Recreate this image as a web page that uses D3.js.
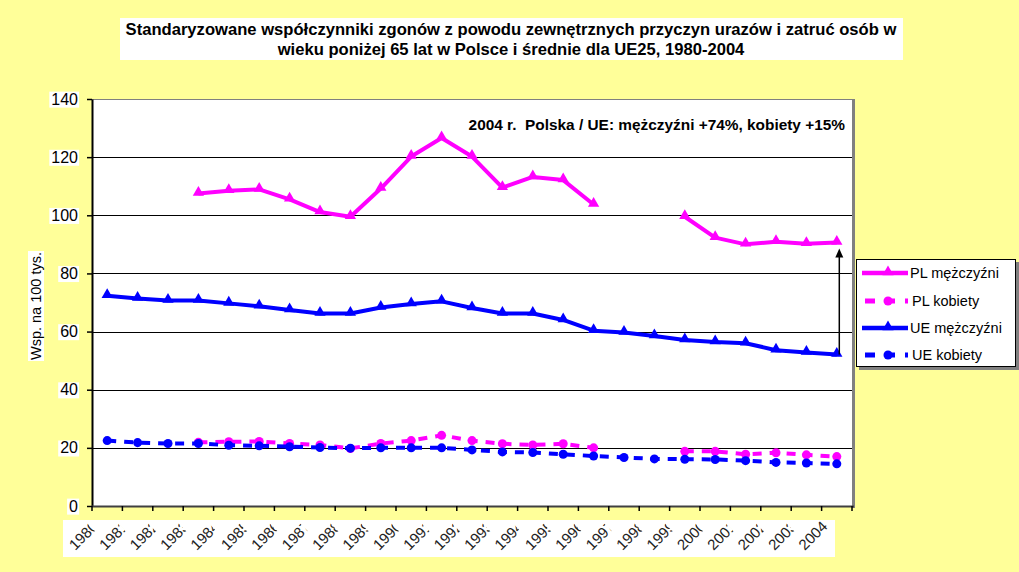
<!DOCTYPE html>
<html><head><meta charset="utf-8">
<script src="https://cdn.jsdelivr.net/npm/d3@7/dist/d3.min.js"></script>
<style>body{margin:0;background:#FFFF99;} svg{display:block;font-family:"Liberation Sans",Arial,sans-serif;}</style>
</head><body>
<svg id="c" width="1019" height="572"></svg>
<script>
const years = ["1980","1981","1982","1983","1984","1985","1986","1987","1988","1989","1990","1991","1992","1993","1994","1995","1996","1997","1998","1999","2000","2001","2002","2003","2004"];
const plMen   = [null,null,null,107.5,108.4,108.9,105.5,101.1,99.5,109.2,120.2,126.6,120.2,109.5,113.2,112.1,103.7,null,null,99.5,92.3,90.0,90.9,90.2,90.6];
const plWomen = [null,null,null,21.9,22.1,22.2,21.5,21.0,19.8,21.5,22.5,24.3,22.5,21.4,21.0,21.4,20.0,null,null,18.8,18.8,17.8,18.3,17.6,17.0];
const ueMen   = [72.3,71.4,70.7,70.7,69.7,68.7,67.4,66.2,66.2,68.3,69.5,70.4,68.1,66.2,66.2,64.0,60.3,59.7,58.5,57.1,56.4,56.0,53.6,52.8,52.1];
const ueWomen = [22.5,21.8,21.5,21.5,20.9,20.7,20.4,20.1,19.9,20.0,20.0,20.0,19.3,18.6,18.4,17.8,17.2,16.7,16.2,16.1,16.0,15.6,15.0,14.8,14.5];
const yTicks = [0,20,40,60,80,100,120,140];
const titleLines = ["Standaryzowane współczynniki zgonów z powodu zewnętrznych przyczyn urazów i zatruć osób w","wieku poniżej 65 lat w Polsce i średnie dla UE25, 1980-2004"];
const yLabel = "Wsp. na 100 tys.";
const note = "2004 r.  Polska / UE: mężczyźni +74%, kobiety +15%";
const series = [
  {name:"PL mężczyźni", values:plMen, color:"#FF00FF", dash:null, marker:"tri"},
  {name:"PL kobiety", values:plWomen, color:"#FF00FF", dash:"9,8", marker:"circ"},
  {name:"UE mężczyźni", values:ueMen, color:"#0000FF", dash:null, marker:"tri"},
  {name:"UE kobiety", values:ueWomen, color:"#0000FF", dash:"9,8", marker:"circ"}
];

const svg = d3.select("#c");
const L=92, R=852, T=99, B=506;
const x = d3.scaleBand().domain(years).range([L,R]).padding(0);
const y = d3.scaleLinear().domain([0,140]).range([B,T]);
const cx = yr => x(yr)+x.bandwidth()/2;

// title
const tg = svg.append("g");
tg.append("rect").attr("x",120).attr("y",18).attr("width",783).attr("height",42).attr("fill","#fff");
titleLines.forEach((t,i)=>tg.append("text").attr("x",511).attr("y",35+i*20).attr("text-anchor","middle")
  .attr("font-weight","bold").attr("font-size",16.6).text(t));

// plot area
svg.append("rect").attr("x",L).attr("y",T).attr("width",R-L).attr("height",B-T).attr("fill","#fff");
svg.append("rect").attr("x",R).attr("y",T).attr("width",3).attr("height",B-T+2).attr("fill","#808080");
svg.append("line").attr("x1",L).attr("x2",R).attr("y1",T+0.5).attr("y2",T+0.5).attr("stroke","#808080");
// grid
svg.append("g").selectAll("line").data(yTicks.filter(d=>d>0&&d<140)).join("line")
  .attr("x1",L).attr("x2",R).attr("y1",d=>Math.round(y(d))+0.5).attr("y2",d=>Math.round(y(d))+0.5)
  .attr("stroke","#000").attr("stroke-width",1);

// y axis
const ya = svg.append("g").attr("transform",`translate(${L},0)`)
  .call(d3.axisLeft(y).tickValues(yTicks).tickSize(5).tickSizeOuter(0).tickPadding(9));
ya.select(".domain").attr("stroke","#000").attr("stroke-width",2);
ya.selectAll(".tick line").attr("stroke","#000").attr("stroke-width",1.5);
ya.selectAll(".tick text").attr("font-size",16).attr("fill","#000").attr("font-family","Liberation Sans, Arial, sans-serif");
ya.selectAll(".tick").each(function(){
  const g=d3.select(this), bb=g.select("text").node().getBBox();
  g.insert("rect","text").attr("x",bb.x-2).attr("y",bb.y+1).attr("width",bb.width+3).attr("height",bb.height-1).attr("fill","#fff");
});
// y label
const yl = svg.append("g").attr("transform","translate(41,306) rotate(-90)");
const ylt = yl.append("text").attr("text-anchor","middle").attr("font-size",14.5).text(yLabel);
const ylb = ylt.node().getBBox();
yl.insert("rect","text").attr("x",ylb.x-1).attr("y",ylb.y).attr("width",ylb.width+2).attr("height",ylb.height).attr("fill","#fff");

// x axis
svg.append("rect").attr("x",63).attr("y",520).attr("width",772).attr("height",37).attr("fill","#fff");
svg.append("line").attr("x1",L).attr("x2",R+2).attr("y1",B+0.5).attr("y2",B+0.5).attr("stroke","#404040").attr("stroke-width",2);
svg.append("g").selectAll("line").data(d3.range(years.length+1)).join("line")
  .attr("x1",i=>L+i*x.bandwidth()).attr("x2",i=>L+i*x.bandwidth()).attr("y1",B).attr("y2",B+5)
  .attr("stroke","#000").attr("stroke-width",1.5);
const defs = svg.append("defs");
defs.append("clipPath").attr("id","lc").append("rect").attr("x",-5).attr("y",-20).attr("width",33).attr("height",30);
svg.append("g").selectAll("g").data(years).join("g")
  .attr("transform",d=>`translate(${cx(d)-32},551) rotate(-45)`)
  .append("text").attr("font-size",15).attr("fill","#222")
  .attr("clip-path",(d,i)=>i<years.length-1?"url(#lc)":null).text(d=>d);

// series
const line = d3.line().defined(d=>d.v!=null).x(d=>cx(d.yr)).y(d=>y(d.v));
series.forEach(s=>{
  const pts = years.map((yr,i)=>({yr,v:s.values[i]}));
  svg.append("path").datum(pts).attr("d",line).attr("fill","none").attr("stroke",s.color)
    .attr("stroke-width",4).attr("stroke-dasharray",s.dash).attr("stroke-linejoin","round");
  const sym = s.marker==="tri"? d3.symbol(d3.symbolTriangle,55) : d3.symbol(d3.symbolCircle,64);
  svg.append("g").selectAll("path").data(pts.filter(d=>d.v!=null)).join("path")
    .attr("transform",d=>`translate(${cx(d.yr)},${y(d.v)+(s.marker==="tri"?-1:0)})`)
    .attr("d",sym).attr("fill",s.color);
});

// note and arrow
svg.append("text").attr("x",845).attr("y",130).attr("text-anchor","end").attr("font-weight","bold")
  .attr("font-size",15.4).style("white-space","pre").text(note);
const ax = cx("2004")+2.5;
const yTop = y(plMen[24])+6, yBot = y(ueMen[24]);
svg.append("line").attr("x1",ax).attr("x2",ax).attr("y1",yBot).attr("y2",yTop+6).attr("stroke","#000").attr("stroke-width",1.5);
svg.append("path").attr("d",`M${ax},${yTop} L${ax-4},${yTop+9} L${ax+4},${yTop+9} Z`).attr("fill","#000");

// legend
const lg = svg.append("g");
lg.append("rect").attr("x",859).attr("y",262).attr("width",160).attr("height",108).attr("fill","#808080");
lg.append("rect").attr("x",856.5).attr("y",259.5).attr("width",159).attr("height",107).attr("fill","#fff").attr("stroke","#000");
const rows=[273,301,328,355];
series.forEach((s,i)=>{
  const yy=rows[i];
  lg.append("line").attr("x1",s.dash?865:862).attr("x2",908).attr("y1",yy).attr("y2",yy).attr("stroke",s.color)
    .attr("stroke-width",s.dash?5:4.5).attr("stroke-dasharray",s.dash?"10,10":null);
  const sym = s.marker==="tri"? d3.symbol(d3.symbolTriangle,55) : d3.symbol(d3.symbolCircle,64);
  lg.append("path").attr("transform",`translate(888,${yy+(s.marker==="tri"?-1:0)})`).attr("d",sym).attr("fill",s.color);
  lg.append("text").attr("x",s.dash?912:910).attr("y",yy+5).attr("font-size",14.5).text(s.name);
});
</script>
</body></html>
